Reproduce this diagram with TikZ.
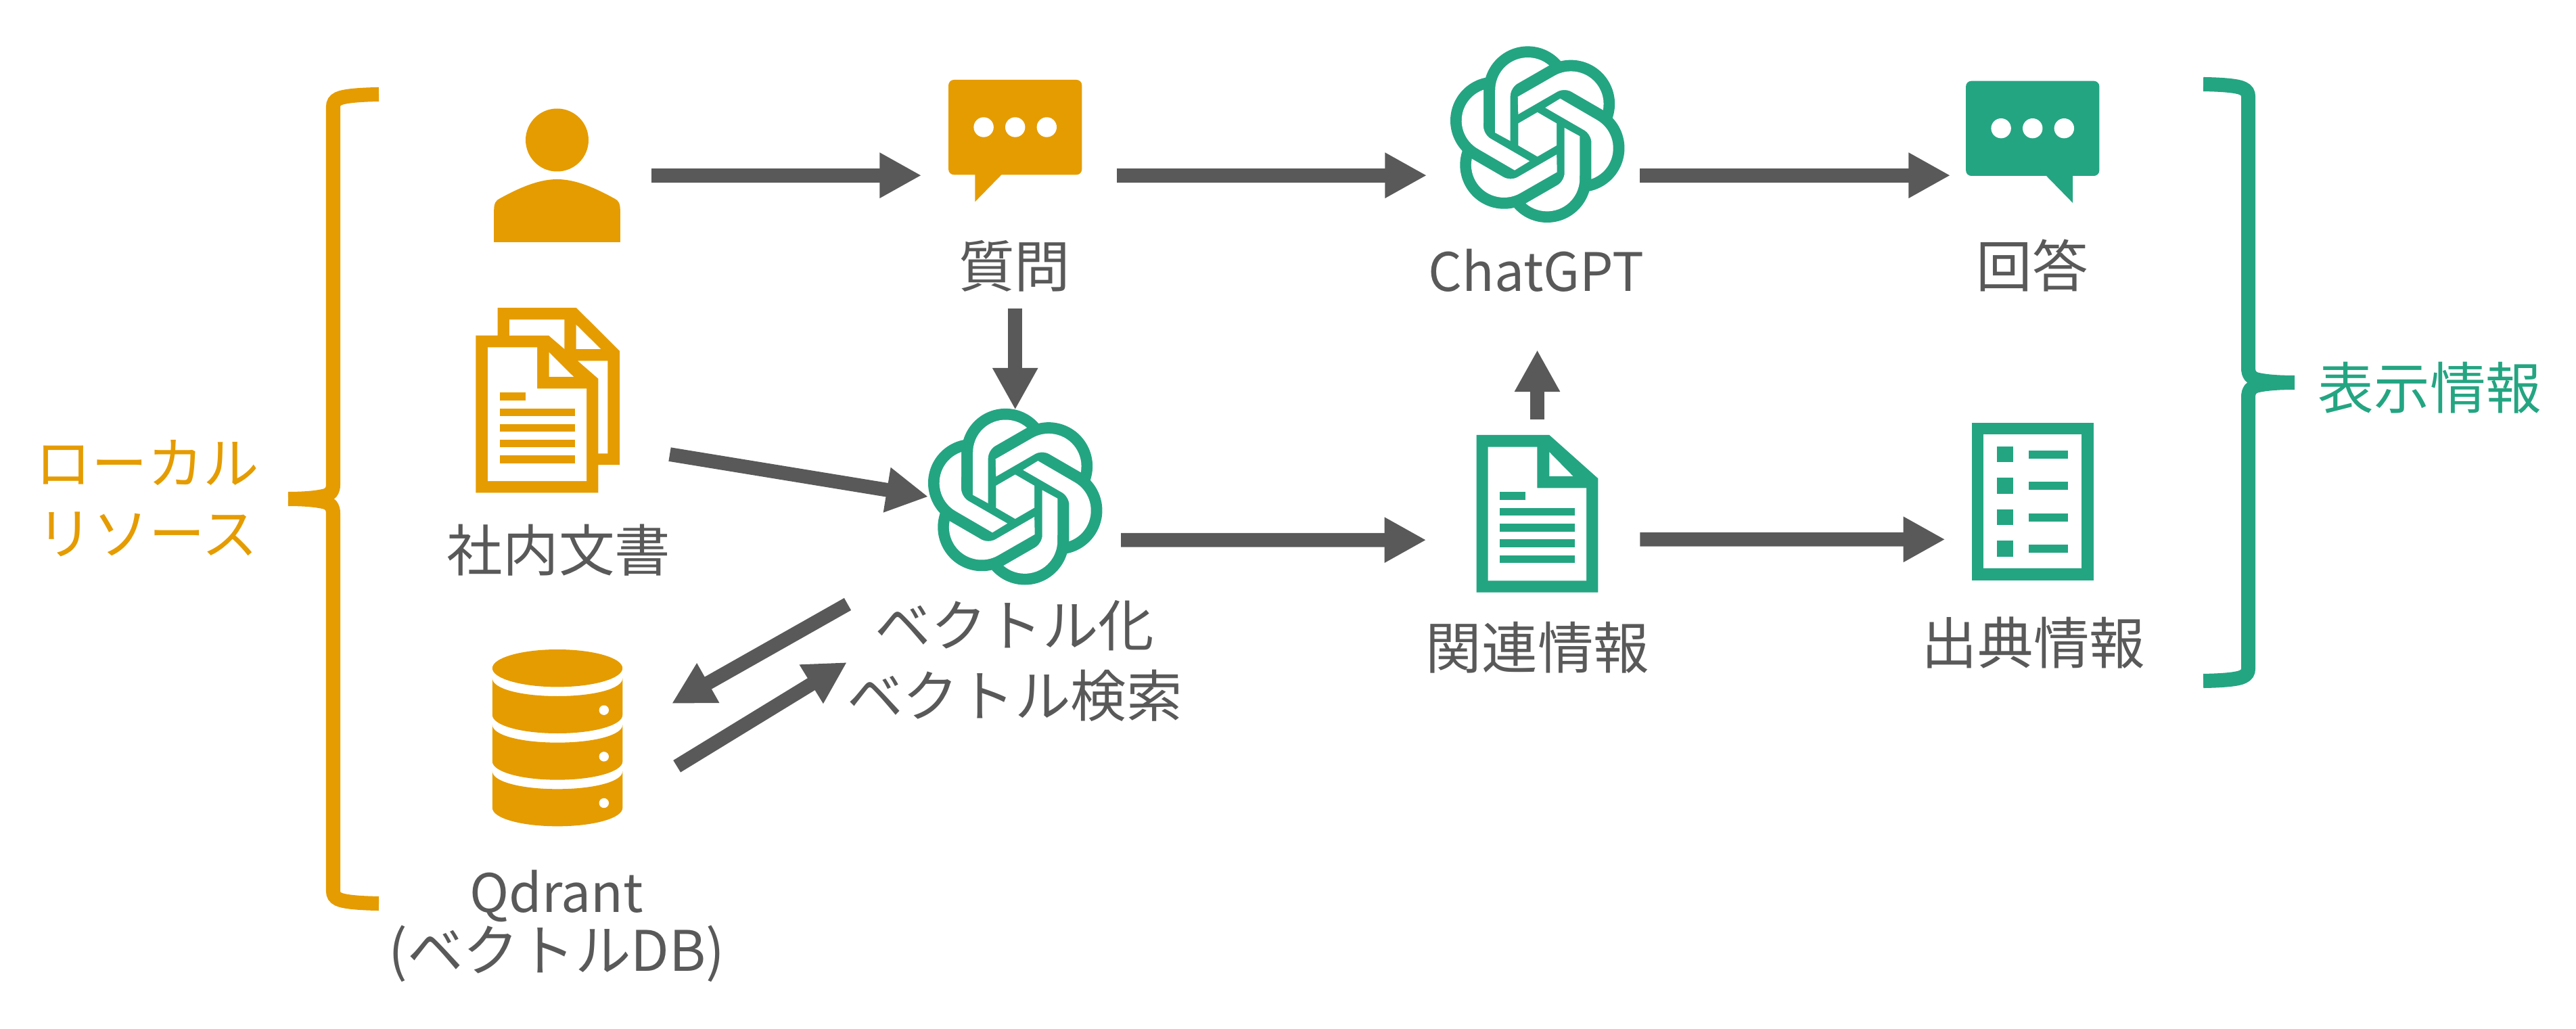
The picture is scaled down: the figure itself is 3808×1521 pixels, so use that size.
\documentclass[tikz,border=0pt]{standalone}
\usepackage{fontspec}
\usetikzlibrary{arrows.meta}
\setmainfont{Noto Sans CJK JP}
\definecolor{localorange}{HTML}{E59C00}
\definecolor{gptgreen}{HTML}{24A582}
\definecolor{flowgray}{HTML}{595959}

\tikzset{
    flow/.style={-{Triangle[length=17.6pt,width=17.9pt]}, line width=5.9pt, flowgray},
    iconbox/.style={inner sep=0pt, outer sep=0pt},
    caption/.style={inner sep=0pt, text=flowgray, align=center, font=\fontsize{23.5}{29.6}\selectfont},
    latincaption/.style={caption, font=\fontsize{22.3}{29.6}\selectfont},
    bracket/.style={line width=6pt}
}

\newcommand{\gptlogo}[1]{
    \begin{scope}[shift={(#1)}]
        \foreach \turn in {0,60,...,300} \fill[gptgreen, rotate=\turn] (-14.3,-65.3) circle[radius=65];
        \fill[gptgreen] (0,0) circle[radius=45];
        \foreach \turn in {0,60,...,300}
            \fill[white, rotate=\turn] (-62.7,-2.7) -- (-40,9.7) [rounded corners=1.2mm] -- (-40,-69) [sharp corners] -- (17.3,-102) arc[start angle=310.7, end angle=180, radius=48.3] -- cycle;
        \fill[white] (0,-32.7) -- (28.3,-16.3) -- (28.3,16.3) -- (0,32.7) -- (-28.3,16.3) -- (-28.3,-16.3) -- cycle;
    \end{scope}
}
\newcommand{\chatbubble}[3]{
    \begin{scope}[shift={(#1)}, xscale=#3]
        \fill[#2, rounded corners=0.8mm] (-98.6,-90) rectangle (98.6,50.3);
        \fill[#2] (-59.4,50) -- (-59.4,90.3) -- (-20,50) -- cycle;
        \foreach \dotx in {-46.6,0,46.6} \fill[white] (\dotx,-20) circle[radius=14.7];
    \end{scope}
}

\begin{document}
\begin{tikzpicture}[x=0.1mm, y=-0.1mm]
    \useasboundingbox (0,0) rectangle (3808,1521);

    \node[iconbox, minimum width=18.7mm, minimum height=19.75mm] (user) at (823.5,259.25) {};
    \node[iconbox, minimum width=19.7mm, minimum height=18mm] (question) at (1500.7,208) {};
    \node[iconbox, minimum size=25.7mm] (chatgpt) at (2272.7,198.7) {};
    \node[iconbox, minimum width=19.7mm, minimum height=18.1mm] (answer) at (3004.7,209.7) {};
    \node[iconbox, minimum width=21.27mm, minimum height=27.36mm] (docs) at (809.7,591.6) {};
    \node[iconbox, minimum size=25.7mm] (vector) at (1500.7,734.2) {};
    \node[iconbox, minimum width=19.25mm, minimum height=26.2mm] (qdrant) at (824,1090.8) {};
    \node[iconbox, minimum width=18mm, minimum height=23.27mm] (related) at (2272.4,759.3) {};
    \node[iconbox, minimum width=18mm, minimum height=23.27mm] (source) at (3004.5,741.3) {};

    % user
    \fill[localorange] (user) ++(0,-52.25) circle[radius=46.5];
    \fill[localorange] (730.2,358) -- (730.2,310.4) .. controls (730.2,301) and (733,296) .. (738.5,293.6) .. controls (765,279) and (795,265) .. (823.5,265) .. controls (852,265) and (882,279) .. (908.5,293.6) .. controls (914,296) and (916.8,301) .. (916.8,310.4) -- (916.8,358) -- cycle;

    \chatbubble{question}{localorange}{1}
    \chatbubble{answer}{gptgreen}{-1}
    \gptlogo{chatgpt}
    \gptlogo{vector}

    % docs
    \fill[localorange] (735.7,454.8) -- (851.7,454.8) -- (916,518.8) -- (916,687.1) -- (884.3,687.1) -- (884.3,728.4) -- (703.3,728.4) -- (703.3,496) -- (735.7,496) -- cycle;
    \fill[white] (753,472.5) -- (834.3,472.5) -- (834.3,515.8) -- (811.3,496) -- (753,496) -- cycle;
    \fill[white] (851.7,480) -- (888,515.8) -- (851.7,515.8) -- cycle;
    \fill[white] (854.3,533.5) -- (898.3,533.5) -- (898.3,670.3) -- (884.3,670.3) -- (884.3,559.6) -- cycle;
    \fill[white] (721,513.3) -- (794,513.3) -- (794,574.3) -- (867,574.3) -- (867,711.1) -- (721,711.1) -- cycle;
    \fill[white] (811.7,520.9) -- (848,557) -- (811.7,557) -- cycle;
    \fill[localorange] (738.7,580.2) rectangle (776.7,591.6);
    \foreach \liney in {603.8,627,650,673.2} \fill[localorange] (738.7,\liney) rectangle (849.7,\liney+11.4);

    % qdrant
    \fill[localorange] (qdrant.center |- 0,987.7) ellipse[x radius=96.2, y radius=27.7];
    \foreach \stack in {0,68.67,137.33} {
        \fill[localorange] (727.8,1002.7+\stack) .. controls (727.8,1018+\stack) and (770,1029+\stack) .. (824,1029+\stack) .. controls (878,1029+\stack) and (920.3,1018+\stack) .. (920.3,1002.7+\stack) -- (920.3,1056.7+\stack) .. controls (920.3,1072+\stack) and (878,1084+\stack) .. (824,1084+\stack) .. controls (770,1084+\stack) and (727.8,1072+\stack) .. (727.8,1056.7+\stack) -- cycle;
        \fill[white] (892.8,1049.7+\stack) circle[radius=7.2];
    }

    % related
    \fill[gptgreen] (2182.5,643) -- (2290.3,643) -- (2362.4,707.3) -- (2362.4,875.7) -- (2182.5,875.7) -- cycle;
    \fill[white] (2199.7,660.7) -- (2272.4,660.7) -- (2272.4,721.3) -- (2345.2,721.3) -- (2345.2,858.3) -- (2199.7,858.3) -- cycle;
    \fill[white] (2290.3,668.3) -- (2325.4,704) -- (2290.3,704) -- cycle;
    \fill[gptgreen] (2217,727.3) rectangle (2255.2,739);
    \foreach \liney in {750.7,774,797.3,820.7} \fill[gptgreen] (2217,\liney) rectangle (2328,\liney+11.6);

    % source
    \fill[gptgreen] (2914.6,625) rectangle (3094.5,857.7);
    \fill[white] (2931.9,642.3) rectangle (3077.3,840.3);
    \foreach \liney in {0,46.5,93,139.5} {
        \fill[gptgreen] (2952.3,660+\liney) rectangle (2975.9,683.3+\liney);
        \fill[gptgreen] (2998.9,666+\liney) rectangle (3056.9,677.7+\liney);
    }

    % brackets
    \draw[bracket, localorange] (560,139.5) .. controls (530,140) and (508,142) .. (500,146) .. controls (495,148.5) and (492.5,152) .. (492.5,158) -- (492.5,716) .. controls (492.5,726) and (488,731) .. (480,733) .. controls (465,736.5) and (445,737.5) .. (426,737.5)
        (426,737.5) .. controls (445,737.5) and (465,738.5) .. (480,742) .. controls (488,744) and (492.5,749) .. (492.5,759) -- (492.5,1317) .. controls (492.5,1323) and (495,1326.5) .. (500,1329) .. controls (508,1333) and (530,1335) .. (560,1335.5);
    \draw[bracket, gptgreen] (3257,124.5) .. controls (3287,125) and (3309,127) .. (3316,131) .. controls (3321,133.5) and (3323.5,137) .. (3323.5,143) -- (3323.5,544) .. controls (3323.5,554) and (3328,559) .. (3336,561) .. controls (3351,564.5) and (3371,565.5) .. (3392,565.5)
        (3392,565.5) .. controls (3371,565.5) and (3351,566.5) .. (3336,570) .. controls (3328,572) and (3323.5,577) .. (3323.5,587) -- (3323.5,988) .. controls (3323.5,994) and (3321,997.5) .. (3316,1000) .. controls (3309,1004) and (3287,1006) .. (3257,1006.5);

    \node[caption] (question text) at (1499.6,393) {質問};
    \node[latincaption] (chatgpt text) at (2270.7,400) {ChatGPT};
    \node[caption] (answer text) at (3004,393) {回答};
    \node[caption] (docs text) at (826,813.6) {社内文書};
    \node[caption] (vector text) at (1500,977) {ベクトル化\\ベクトル検索};
    \node[caption] (related text) at (2273,957) {関連情報};
    \node[caption] (source text) at (3006,950) {出典情報};
    \node[caption] (qdrant text) at (823,1369) {{\fontsize{22.3}{26}\selectfont Qdrant}\\[-4.8pt](ベクトルDB)};
    \node[caption, text=localorange] (local text) at (218,737) {ローカル\\リソース};
    \node[caption, text=gptgreen] (shown text) at (3592,573) {表示情報};

    \draw[flow, shorten <=4.6mm, shorten >=4mm] (user.east) -- (user.east -| question.west);
    \draw[flow, shorten <=5.2mm, shorten >=3.5mm] (user.east -| question.east) -- (user.east -| chatgpt.west);
    \draw[flow, shorten <=2.3mm, shorten >=2.3mm] (user.east -| chatgpt.east) -- (user.east -| answer.west);
    \draw[flow, shorten <=15.8mm] (question.south) -- (vector.north);
    \draw[flow] ([xshift=7.4mm, yshift=-8mm]docs.east) -- (vector.west);
    \draw[flow, shorten <=2.8mm, shorten >=7.4mm] ([yshift=-6.4mm]vector.east) -- ([yshift=-3.89mm]related.west);
    \draw[flow, shorten <=2.3mm, shorten >=19mm] (related.north) -- (chatgpt.south);
    \draw[flow, shorten <=6.2mm, shorten >=3.9mm] ([yshift=-3.8mm]related.east) -- ([yshift=-5.6mm]source.west);
    \draw[flow] ([xshift=-24.77mm, yshift=-3.03mm]vector.south) -- ([xshift=7.27mm, yshift=5.08mm]qdrant.east);
    \draw[flow] ([xshift=8.04mm, yshift=-4.19mm]qdrant.east) -- ([xshift=-24.87mm, yshift=-11.63mm]vector.south);
\end{tikzpicture}
\end{document}
